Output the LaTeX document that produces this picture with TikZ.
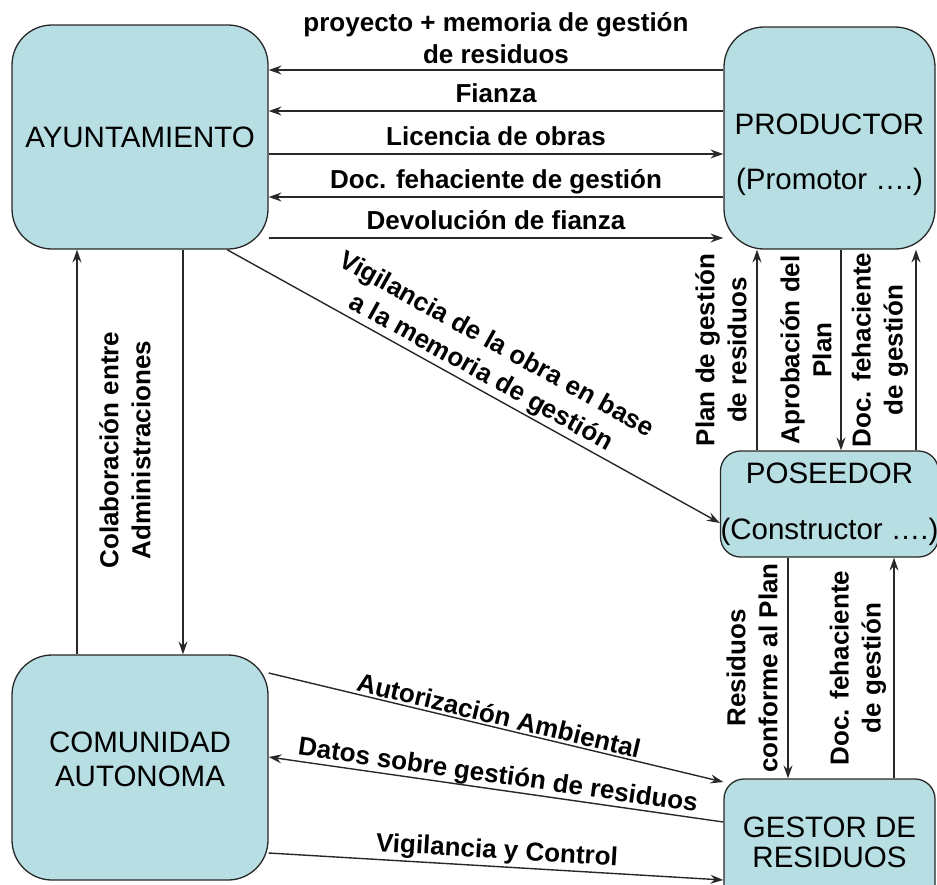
\documentclass[tikz,border=0pt]{standalone}
\usepackage{fontspec}
\setmainfont{Liberation Sans}
\usepackage{tikz}
\usetikzlibrary{arrows.meta,positioning}
\definecolor{boxfill}{RGB}{183,222,226}
\definecolor{linegray}{RGB}{40,40,40}
\begin{document}
\begin{tikzpicture}[
  x=1pt, y=-1pt,
  box/.style={draw=linegray, line width=1.3pt, fill=boxfill, rounded corners=40pt,
              inner sep=0pt, font=\fontsize{29.5}{32}\selectfont, align=center},
  smallbox/.style={box, rounded corners=20pt},
  boxtxt/.style={font=\fontsize{29.5}{32}\selectfont, align=center, inner sep=0pt},
  lbl/.style={font=\fontsize{26}{32}\selectfont\bfseries, align=center, inner sep=2pt},
  hlbl/.style={lbl, text height=19pt, text depth=6pt},
  arr/.style={-{Stealth[length=13pt,width=9pt,inset=4.5pt]}, draw=linegray, line width=1.4pt}
]
\useasboundingbox (0,0) rectangle (937,884);
\node[box, minimum width=256pt, minimum height=224pt] (ayu) at (140,137) {AYUNTAMIENTO};
\node[box, minimum width=211pt, minimum height=222pt] (prod) at (829.5,138) {};
\node[boxtxt] (prodtxt) at ([yshift=-17pt]prod.center) {PRODUCTOR\\[23pt](Promotor ….)};
\node[smallbox, minimum width=211pt, minimum height=106pt] (pos) at (829.5,504) {POSEEDOR\\[24pt](Constructor ….)};
\node[box, minimum width=256pt, minimum height=225pt] (com) at (140,767.5) {};
\node[boxtxt] (comtxt) at ([yshift=8pt]com.center) {COMUNIDAD\\[2pt]AUTONOMA};
\node[smallbox, minimum width=211pt, minimum height=126pt] (ges) at (829.5,842) {GESTOR DE\\[-2pt]RESIDUOS};

\draw[arr] (prod.west |- 0,70) -- node[lbl, above, inner sep=1pt, yshift=5pt] (proy) {proyecto + memoria de gestión\\de residuos} (ayu.east |- 0,70);
\draw[arr] (prod.west |- 0,111) -- node[hlbl, above] (fianza) {Fianza} (ayu.east |- 0,111);
\draw[arr] (ayu.east |- 0,154) -- node[hlbl, above] (lic) {Licencia de obras} (prod.west |- 0,154);
\draw[arr] (prod.west |- 0,197) -- node[hlbl, above] (docfeh) {Doc. fehaciente de gestión} (ayu.east |- 0,197);
\draw[arr] (ayu.east |- 0,238) -- node[hlbl, above] (devol) {Devolución de fianza} (prod.west |- 0,238);

\draw[arr] (com.north -| 77,0) -- (ayu.south -| 77,0);
\draw[arr] (ayu.south -| 183,0) -- (com.north -| 183,0);
\node[lbl, rotate=90] (colab) at (125,450) {Colaboración entre\\Administraciones};

\draw[arr] (ayu.south -| 227,0) -- node[lbl, above, sloped] (vigobra) {Vigilancia de la obra en base\\a la memoria de gestión} (pos.west |- 0,523);

\draw[arr] (pos.north -| 757,0) -- (prod.south -| 757,0);
\draw[arr] (prod.south -| 841,0) -- (pos.north -| 841,0);
\draw[arr] (pos.north -| 916,0) -- (prod.south -| 916,0);
\node[lbl, rotate=90] (plan) at (721,350) {Plan de gestión\\de residuos};
\node[lbl, rotate=90] (aprob) at (806,350) {Aprobación del\\Plan};
\node[lbl, rotate=90] (docprod) at (880,350) {Doc. fehaciente\\de gestión};

\draw[arr] (pos.south -| 788,0) -- (ges.north -| 788,0);
\draw[arr] (ges.north -| 894,0) -- (pos.south -| 894,0);
\node[lbl, rotate=90] (resid) at (752,668) {Residuos\\conforme al Plan};
\node[lbl, rotate=90] (docges) at (858,668) {Doc. fehaciente\\de gestión};

\draw[arr] (com.east |- 0,673) -- node[lbl, above, sloped] (autor) {Autorización Ambiental} (ges.west |- 0,782);
\draw[arr] (ges.west |- 0,822) -- node[lbl, above, sloped, inner sep=0pt] (datos) {Datos sobre gestión de residuos} (com.east |- 0,757);
\draw[arr] (com.east |- 0,853) -- node[lbl, above, sloped] (vigctrl) {Vigilancia y Control} (ges.west |- 0,880);
\end{tikzpicture}
\end{document}
